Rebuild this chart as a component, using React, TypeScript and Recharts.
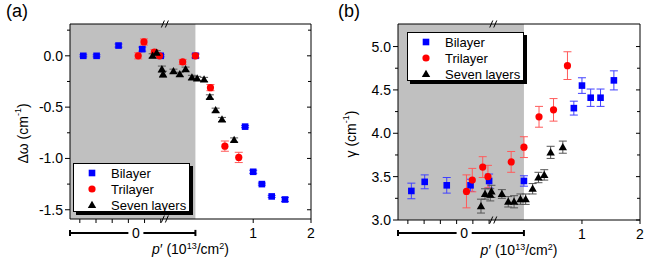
import {
  ScatterChart,
  Scatter,
  XAxis,
  YAxis,
  ErrorBar,
  ReferenceArea,
  ReferenceLine,
  ReferenceDot,
  Legend,
} from 'recharts';

const FONT = '"Liberation Sans", Arial, Helvetica, sans-serif';

// x positions: the grey (gated) region sits left of 0 on a compressed scale,
// to the right of it the axis is p' in 10^13/cm^2
const bilayerX = [-1.94, -1.71, -1.33, -0.92, -0.6, 0.0, 0.86, 1.0, 1.15, 1.32, 1.55];
const trilayerX = [-0.99, -0.89, -0.71, -0.62, -0.22, 0.0, 0.26, 0.51, 0.75];
const sevenX = [-0.74, -0.67, -0.58, -0.56, -0.38, -0.27, -0.17, -0.06, 0.03, 0.15, 0.25, 0.35, 0.46, 0.67];

// (a) shift, cm^-1
const bilayerShift = [0.0, 0.0, 0.1, 0.065, 0.0, 0.0, -0.69, -1.13, -1.25, -1.37, -1.4];
const bilayerShiftErr = [0.01, 0.01, 0.015, 0.02, 0.01, 0.015, 0.01, 0.015, 0.01, 0.01, 0.02];
const trilayerShift = [0.0, 0.135, 0.035, 0.0, -0.06, 0.0, -0.31, -0.88, -0.99];
const trilayerShiftErr = [0.03, 0.03, 0.025, 0.025, 0.025, 0.025, 0.03, 0.05, 0.05];
const sevenShift = [0.0, 0.03, -0.13, -0.18, -0.15, -0.18, -0.13, -0.21, -0.22, -0.23, -0.4, -0.53, -0.62, -0.82];
const sevenShiftErr = [0.02, 0.02, 0.03, 0.03, 0.02, 0.02, 0.02, 0.02, 0.02, 0.02, 0.02, 0.02, 0.02, 0.02];

// (b) linewidth gamma, cm^-1
const bilayerWidth = [3.335, 3.44, 3.4, 3.4, 3.45, 3.45, 4.29, 4.55, 4.41, 4.41, 4.61];
const bilayerWidthErr = [0.09, 0.08, 0.09, 0.07, 0.08, 0.06, 0.08, 0.09, 0.1, 0.1, 0.11];
const trilayerWidth = [3.33, 3.46, 3.61, 3.5, 3.67, 3.84, 4.19, 4.27, 4.78];
const trilayerWidthErr = [0.19, 0.135, 0.12, 0.13, 0.12, 0.12, 0.12, 0.13, 0.16];
const sevenWidth = [3.16, 3.3, 3.29, 3.33, 3.3, 3.21, 3.21, 3.24, 3.24, 3.36, 3.49, 3.52, 3.78, 3.84];
const sevenWidthErr = [0.08, 0.06, 0.07, 0.07, 0.05, 0.06, 0.07, 0.06, 0.06, 0.06, 0.06, 0.06, 0.07, 0.07];

const shiftTicks = [-1.5, -1.25, -1, -0.75, -0.5, -0.25, 0, 0.25];
const widthTicks = [3, 3.25, 3.5, 3.75, 4, 4.25, 4.5, 4.75, 5];
const xTicks = [-2.0, -1.72, -1.44, -1.16, -0.88, -0.6, 1, 2];
const xLabelTicks = [1, 2];
const xDomain: [number, number] = [-2.17, 2];

const zip = (xs: number[], ys: number[], es: number[]) =>
  xs.map((x, i) => ({ x, y: ys[i], err: es[i] }));

const square = (color: string, s = 3.3) => (p: any) =>
  <rect x={p.cx - s} y={p.cy - s} width={2 * s} height={2 * s} fill={color} />;
const dot = (color: string, r = 3.6) => (p: any) =>
  <circle cx={p.cx} cy={p.cy} r={r} fill={color} />;
const tri = (color: string, s = 4.2) => (p: any) =>
  <polygon points={`${p.cx},${p.cy - s} ${p.cx + s},${p.cy + s * 0.72} ${p.cx - s},${p.cy + s * 0.72}`} fill={color} />;

const isMajor = (v: number) => Math.abs(v * 2 - Math.round(v * 2)) < 1e-6;

function LeftTick({ x, y, payload }: any) {
  const major = isMajor(payload.value);
  return (
    <g>
      <line x1={x - (major ? 5 : 3)} x2={x} y1={y} y2={y} stroke="#000" />
      {major && (
        <text x={x - 7} y={y + 5} textAnchor="end" fontSize={14} fontFamily={FONT} fill="#000">
          {payload.value.toFixed(1)}
        </text>
      )}
    </g>
  );
}

function RightTick({ x, y, payload }: any) {
  const major = isMajor(payload.value);
  return <line x1={x - (major ? 4 : 3)} x2={x} y1={y} y2={y} stroke="#000" />;
}

function BottomTick({ x, y, payload }: any) {
  const v = payload.value;
  return (
    <g>
      <line x1={x} x2={x} y1={y} y2={y + 4} stroke="#000" />
      {xLabelTicks.includes(v) && (
        <text x={x} y={y + 19} textAnchor="middle" fontSize={14} fontFamily={FONT} fill="#000">
          {v}
        </text>
      )}
    </g>
  );
}

function TopTick({ x, y }: any) {
  return <line x1={x} x2={x} y1={y} y2={y + 4} stroke="#000" />;
}

function XTitle({ viewBox }: any) {
  const cx = viewBox.x + viewBox.width / 2;
  return (
    <text x={cx} y={viewBox.y + 35} textAnchor="middle" fontSize={14} fontFamily={FONT} fill="#000">
      <tspan fontStyle="italic">p</tspan>
      <tspan>{'\u2032 (10'}</tspan>
      <tspan dy={-5} fontSize={9}>13</tspan>
      <tspan dy={5}>/cm</tspan>
      <tspan dy={-5} fontSize={9}>2</tspan>
      <tspan dy={5}>)</tspan>
    </text>
  );
}

const yTitle = (symbol: string) => ({ viewBox }: any) => {
  const x = viewBox.x - 7;
  const y = viewBox.y + viewBox.height / 2 + 12;
  return (
    <text x={x} y={y} transform={`rotate(-90, ${x}, ${y})`} textAnchor="middle" dominantBaseline="central" fontSize={14} fontFamily={FONT} fill="#000">
      <tspan>{`${symbol} (cm`}</tspan>
      <tspan dy={-5} fontSize={9}>-1</tspan>
      <tspan dy={5}>)</tspan>
    </text>
  );
};

const breakMark = (p: any) => (
  <g stroke="#000" strokeWidth={1}>
    <line x1={p.cx - 4} y1={p.cy + 3.5} x2={p.cx - 1} y2={p.cy - 3.5} />
    <line x1={p.cx} y1={p.cy + 3.5} x2={p.cx + 3} y2={p.cy - 3.5} />
  </g>
);

const zeroLabel = (p: any) => (
  <text x={p.cx} y={p.cy + 5} textAnchor="middle" fontSize={14} fontFamily={FONT} fill="#000">0</text>
);

type Series = { name: string; data: any[]; color: string; errColor: string; shape: (c: string) => any };

function LegendBox({ items }: { items: Series[] }) {
  return (
    <div
      style={{
        width: 117,
        height: 49,
        boxSizing: 'border-box',
        border: '1px solid #000',
        boxShadow: '3px 3px 0 #000',
        background: '#fff',
        paddingTop: 1,
        fontFamily: FONT,
        fontSize: 13,
        color: '#000',
      }}
    >
      {items.map((it) => (
        <div key={it.name} style={{ display: 'flex', alignItems: 'center', height: 16 }}>
          <svg width={12} height={12} style={{ marginLeft: 12, marginRight: 13 }}>
            {it.shape(it.color)({ cx: 6, cy: 6 })}
          </svg>
          <span>{it.name}</span>
        </div>
      ))}
    </div>
  );
}

function Panel({ tag, series, yDomain, yTicks, ySymbol, bracketAt, capHalf, margin, legendPos }: any) {
  return (
    <div style={{ position: 'relative', width: 332, height: 266 }}>
      <div style={{ position: 'absolute', left: 6, top: 2, fontFamily: FONT, fontSize: 18, lineHeight: 1 }}>{tag}</div>
      <ScatterChart width={332} height={266} margin={margin}>
        <ReferenceArea x1={xDomain[0]} x2={0} fill="#c0c0c0" fillOpacity={1} stroke="none" />
        <XAxis dataKey="x" type="number" domain={xDomain} allowDataOverflow ticks={xTicks} interval={0}
          height={1} tickLine={false} tickSize={0} tickMargin={0} tick={BottomTick}
          axisLine={{ stroke: '#000' }} label={XTitle} />
        <XAxis xAxisId="top" orientation="top" type="number" domain={xDomain} allowDataOverflow ticks={xTicks}
          interval={0} height={1} tickLine={false} tickSize={0} tickMargin={0} tick={TopTick} axisLine={{ stroke: '#000' }} />
        <YAxis dataKey="y" type="number" domain={yDomain} allowDataOverflow ticks={yTicks} interval={0}
          width={40} tickLine={false} tickSize={0} tickMargin={0} tick={LeftTick}
          axisLine={{ stroke: '#000' }} label={yTitle(ySymbol)} />
        <YAxis yAxisId="right" orientation="right" type="number" domain={yDomain} allowDataOverflow ticks={yTicks}
          interval={0} width={1} tickLine={false} tickSize={0} tickMargin={0} tick={RightTick} axisLine={{ stroke: '#000' }} />

        {/* bracket under the grey region */}
        <ReferenceLine ifOverflow="visible" stroke="#000" strokeWidth={2}
          segment={[{ x: xDomain[0], y: bracketAt }, { x: -1.16, y: bracketAt }]} />
        <ReferenceLine ifOverflow="visible" stroke="#000" strokeWidth={2}
          segment={[{ x: -0.9, y: bracketAt }, { x: 0, y: bracketAt }]} />
        <ReferenceLine ifOverflow="visible" stroke="#000" strokeWidth={2}
          segment={[{ x: xDomain[0], y: bracketAt - capHalf }, { x: xDomain[0], y: bracketAt + capHalf }]} />
        <ReferenceLine ifOverflow="visible" stroke="#000" strokeWidth={2}
          segment={[{ x: 0, y: bracketAt - capHalf }, { x: 0, y: bracketAt + capHalf }]} />
        <ReferenceDot x={-1.03} y={bracketAt} r={0} ifOverflow="visible" shape={zeroLabel} />
        <ReferenceDot x={-0.52} y={yDomain[1]} r={0} ifOverflow="visible" shape={breakMark} />
        <ReferenceDot x={-0.52} y={yDomain[0]} r={0} ifOverflow="visible" shape={breakMark} />

        {series.map((s: Series) => (
          <Scatter key={s.name} data={s.data} fill={s.color} shape={s.shape(s.color)} isAnimationActive={false}>
            <ErrorBar dataKey="err" direction="y" width={4} stroke={s.errColor} strokeWidth={1} isAnimationActive={false} />
          </Scatter>
        ))}

        <Legend layout="horizontal" verticalAlign="middle" align="center"
          wrapperStyle={{ left: legendPos.left, top: legendPos.top, width: 117, height: 49 }}
          content={() => <LegendBox items={series} />} />
      </ScatterChart>
    </div>
  );
}

export default function App() {
  const shiftSeries: Series[] = [
    { name: 'Bilayer', data: zip(bilayerX, bilayerShift, bilayerShiftErr), color: '#0000ff', errColor: '#4040ff', shape: square },
    { name: 'Trilayer', data: zip(trilayerX, trilayerShift, trilayerShiftErr), color: '#ff0000', errColor: '#ff5a5a', shape: dot },
    { name: 'Seven layers', data: zip(sevenX, sevenShift, sevenShiftErr), color: '#000000', errColor: '#555555', shape: tri },
  ];
  const widthSeries: Series[] = [
    { name: 'Bilayer', data: zip(bilayerX, bilayerWidth, bilayerWidthErr), color: '#0000ff', errColor: '#4040ff', shape: square },
    { name: 'Trilayer', data: zip(trilayerX, trilayerWidth, trilayerWidthErr), color: '#ff0000', errColor: '#ff5a5a', shape: dot },
    { name: 'Seven layers', data: zip(sevenX, sevenWidth, sevenWidthErr), color: '#000000', errColor: '#555555', shape: tri },
  ];

  return (
    <div style={{ position: 'absolute', left: 0, top: 0, width: 664, height: 266, display: 'flex', background: '#fff' }}>
      <Panel tag="(a)" series={shiftSeries} yDomain={[-1.59, 0.31]} yTicks={shiftTicks} ySymbol={'\u0394\u03c9'}
        bracketAt={-1.726} capHalf={0.03} margin={{ top: 23, right: 20, bottom: 46, left: 30 }}
        legendPos={{ left: 73, top: 163 }} />
      <Panel tag="(b)" series={widthSeries} yDomain={[3.0, 5.26]} yTicks={widthTicks} ySymbol={'\u03b3'}
        bracketAt={2.85} capHalf={0.035} margin={{ top: 23, right: 23, bottom: 45, left: 26 }}
        legendPos={{ left: 75, top: 32 }} />
    </div>
  );
}
